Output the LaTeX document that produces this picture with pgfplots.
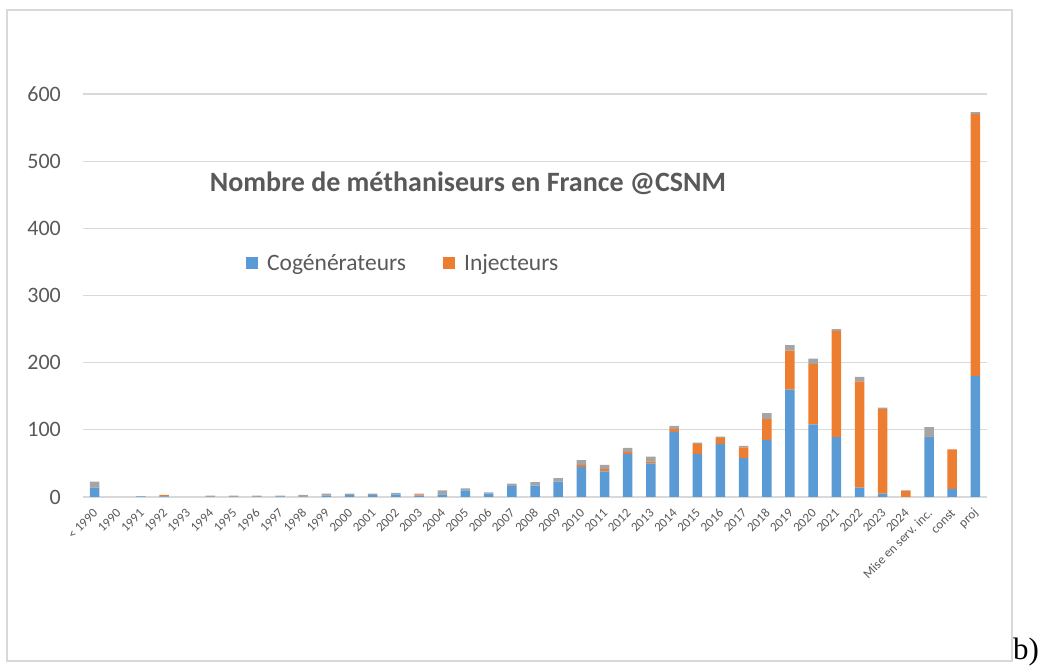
\documentclass[border=0pt]{standalone}
\usepackage{pgfplots}
\pgfplotsset{compat=1.18}
\usepackage{pgfplotstable}
\usepackage{fontspec}
\setmainfont{Carlito}
\newfontfamily\seriffont{Liberation Serif}
\definecolor{cblue}{HTML}{5B9BD5}
\definecolor{corange}{HTML}{ED7D31}
\definecolor{cgray}{HTML}{A5A5A5}
\definecolor{ctext}{HTML}{595959}
\definecolor{cgrid}{HTML}{D9D9D9}

\pgfplotstableread{
x blue orange gray
0 14 0 9
1 0 0 0
2 1 0 0
3 1 2 0
4 0 0 0
5 0 0 2
6 0 0 2
7 0 0 2
8 1 0 1
9 0 0 3
10 2 0 3
11 3 0 2
12 3 0 2
13 4 0 2
14 2 2 1
15 4 0 6
16 10 0 3
17 5 0 2
18 16 0 4
19 17 0 5
20 23 0 5
21 45 3 7
22 38 4 6
23 64 3 6
24 50 3 7
25 97 4 5
26 64 15 2
27 79 9 2
28 58 16 2
29 85 31 9
30 160 58 8
31 108 90 8
32 89 158 3
33 14 158 7
34 5 126 2
35 0 9 1
36 90 1 13
37 12 59 0
38 180 390 3
}\data

\begin{document}
\begin{tikzpicture}[x=1pt,y=1pt]
\useasboundingbox (0,0) rectangle (1042,671);
\draw[cgrid, line width=1.5pt] (7,10) rectangle (1012,661);
\node[anchor=base west, inner sep=0pt, font=\seriffont\fontsize{31}{34}\selectfont] at (1013,11) {b)};
\begin{axis}[
  at={(83pt,174pt)}, anchor=south west,
  scale only axis, width=904pt, height=403pt,
  xmin=-0.5, xmax=38.5, ymin=0, ymax=600,
  ybar stacked, bar width=9.5pt,
  ytick={0,100,...,600},
  xtick={0,...,38},
  xticklabels={{< 1990},1990,1991,1992,1993,1994,1995,1996,1997,1998,1999,2000,2001,2002,2003,2004,2005,2006,2007,2008,2009,2010,2011,2012,2013,2014,2015,2016,2017,2018,2019,2020,2021,2022,2023,2024,{Mise en serv. inc.},const,proj},
  /pgf/number format/assume math mode=true,
  axis line style={draw=none},
  major tick length=0pt,
  ymajorgrids, grid style={cgrid, line width=1.2pt},
  yticklabel style={font=\fontsize{22}{26}\selectfont, text=ctext, inner sep=0pt, xshift=-22pt},
  xticklabel style={font=\fontsize{13}{15}\selectfont, text=ctext, inner sep=0pt, yshift=-14pt, xshift=1pt, rotate=45, anchor=east},
  legend style={at={(0.1803,0.5806)}, anchor=west, draw=none, fill=none, inner sep=0pt,
    font=\fontsize{23.5}{27}\selectfont, text=ctext, legend columns=2,
    /tikz/every odd column/.append style={column sep=7pt},
    /tikz/every even column/.append style={column sep=35pt}},
  legend cell align=left,
]
\addplot[fill=cblue, draw=none, legend image code/.code={\fill[cblue] (0pt,-6pt) rectangle (12pt,6pt);}] table[x=x, y=blue] {\data};
\addlegendentry{Cogénérateurs}
\addplot[fill=corange, draw=none, legend image code/.code={\fill[corange] (0pt,-6pt) rectangle (12pt,6pt);}] table[x=x, y=orange] {\data};
\addlegendentry{Injecteurs}
\addplot[fill=cgray, draw=none, forget plot] table[x=x, y=gray] {\data};
\end{axis}
\node[font=\bfseries\fontsize{28}{32}\selectfont, text=ctext] at (468,488) {Nombre de méthaniseurs en France @CSNM};
\end{tikzpicture}
\end{document}
